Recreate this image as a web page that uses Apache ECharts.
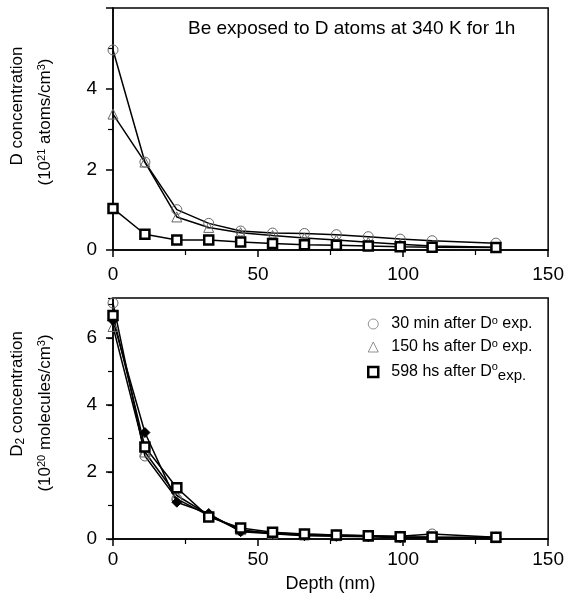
<!DOCTYPE html>
<html lang="en">
<head>
    <meta charset="UTF-8">
    <title>D and D2 depth profiles</title>
    <script src="https://cdn.jsdelivr.net/npm/echarts@6.0.0/dist/echarts.min.js"></script>
    <style>
        html, body { margin: 0; padding: 0; background: #fff; }
        #chart { width: 567px; height: 601px; }
    </style>
</head>
<body>
    <div id="chart"></div>
    <script>
        // depth of each measured point (nm)
        var depth = [0, 11, 22, 33, 44, 55, 66, 77, 88, 99, 110, 132];

        // top panel: D concentration (10^21 atoms/cm^3)
        var dAtom30min = [4.96, 2.18, 1.0, 0.66, 0.47, 0.42, 0.41, 0.38, 0.33, 0.27, 0.23, 0.17];
        var dAtom150h  = [3.37, 2.18, 0.82, 0.56, 0.43, 0.36, 0.3, 0.25, 0.19, 0.14, 0.1, 0.07];
        var dAtom598h  = [1.03, 0.39, 0.25, 0.25, 0.2, 0.16, 0.13, 0.12, 0.1, 0.08, 0.07, 0.06];

        // bottom panel: D2 concentration (10^20 molecules/cm^3)
        var d2Mol30min  = [7.05, 2.48, 1.2, 0.7, 0.25, 0.18, 0.14, 0.12, 0.1, 0.08, 0.15, 0.05];
        var d2Mol150h   = [6.35, 2.6, 1.3, 0.72, 0.28, 0.16, 0.12, 0.1, 0.08, 0.06, 0.05, 0.04];
        var d2Mol598h   = [6.68, 2.75, 1.53, 0.66, 0.33, 0.2, 0.15, 0.12, 0.1, 0.07, 0.06, 0.05];
        var d2MolFilled = [6.53, 3.18, 1.1, 0.76, 0.22, 0.16, 0.1, 0.08, 0.07, 0.04, 0.04, 0.03];

        var xTicks = [0, 50, 100, 150];
        var seriesNames = ['30 min after D° exp.', '150 hs after D° exp.', '598 hs after D° exp.'];
        var legendRich = [
            '30 min after D{sup|o} exp.',
            '150 hs after D{sup|o} exp.',
            '598 hs after D{sup|o}{sub|exp.}'
        ];

        var FONT = 'Liberation Sans, Arial, sans-serif';
        var chart = echarts.init(document.getElementById('chart'));

        function pairs(ys) {
            return depth.map(function (d, i) { return [d, ys[i]]; });
        }

        function xAxisFor(grid, showLabel) {
            return {
                type: 'value', gridIndex: grid, min: xTicks[0], max: xTicks[xTicks.length - 1], interval: 50,
                axisLine: { lineStyle: { color: '#000', width: 1.5 } },
                axisTick: { length: 7, lineStyle: { color: '#000', width: 1.5 } },
                minorTick: { show: true, splitNumber: 2, length: 5, lineStyle: { color: '#000', width: 1.2 } },
                splitLine: { show: false },
                axisLabel: { show: true, color: '#000', fontSize: 19, fontFamily: FONT, margin: showLabel ? 11 : 15 },
                name: showLabel ? 'Depth (nm)' : '',
                nameLocation: 'middle', nameGap: 36,
                nameTextStyle: { color: '#000', fontSize: 18, fontFamily: FONT }
            };
        }

        function markerSeries(name, data, xi, yi, symbol, style, size) {
            return {
                name: name, type: 'line', xAxisIndex: xi, yAxisIndex: yi,
                data: pairs(data), symbol: symbol, symbolSize: size,
                lineStyle: { color: '#000', width: 1.5 },
                itemStyle: style,
                animation: false
            };
        }

        var openCircle = { color: 'rgba(255,255,255,0)', borderColor: '#666', borderWidth: 1 };
        var openTri = { color: 'rgba(255,255,255,0)', borderColor: '#666', borderWidth: 1 };
        var boxSq = { color: '#fff', borderColor: '#000', borderWidth: 2.5 };
        var filled = { color: '#000', borderColor: '#000', borderWidth: 1 };

        var supRich = {
            sup: { fontSize: 11, fontFamily: FONT, color: '#000', verticalAlign: 'top', lineHeight: 18 },
            sub: { fontSize: 15, fontFamily: FONT, color: '#000', verticalAlign: 'bottom', lineHeight: 22, padding: [6, 0, 0, 0] }
        };

        var option = {
            animation: false,
            grid: [
                { left: 113, top: 8, right: 18, height: 242, show: true, borderColor: '#000', borderWidth: 1.5 },
                { left: 113, top: 298, right: 18, height: 241, show: true, borderColor: '#000', borderWidth: 1.5 }
            ],
            xAxis: [xAxisFor(0, false), xAxisFor(1, true)],
            yAxis: [
                {
                    type: 'value', gridIndex: 0, min: 0, max: 6, interval: 2,
                    axisLine: { show: true, lineStyle: { color: '#000', width: 1.5 } },
                    axisTick: { length: 7, lineStyle: { color: '#000', width: 1.5 } },
                    minorTick: { show: true, splitNumber: 2, length: 5, lineStyle: { color: '#000', width: 1.2 } },
                    splitLine: { show: false },
                    axisLabel: { color: '#000', fontSize: 19, fontFamily: FONT, margin: 16, showMaxLabel: false }
                },
                {
                    type: 'value', gridIndex: 1, min: 0, max: 7.2, interval: 2,
                    axisLine: { show: true, lineStyle: { color: '#000', width: 1.5 } },
                    axisTick: { length: 7, lineStyle: { color: '#000', width: 1.5 } },
                    splitLine: { show: false },
                    axisLabel: { color: '#000', fontSize: 19, fontFamily: FONT, margin: 16, showMaxLabel: false }
                },
                {
                    // minor ticks of the lower panel (every 1 unit)
                    type: 'value', gridIndex: 1, position: 'left', min: 0, max: 7.2, interval: 1,
                    axisLine: { show: false },
                    axisTick: { length: 5, lineStyle: { color: '#000', width: 1.2 } },
                    splitLine: { show: false },
                    axisLabel: { show: false }
                }
            ],
            legend: {
                orient: 'vertical', left: 362, top: 310, itemGap: 6,
                itemWidth: 10, itemHeight: 10,
                data: [
                    { name: seriesNames[0], icon: 'circle', itemStyle: { color: 'rgba(255,255,255,0)', borderColor: '#777', borderWidth: 0.8 } },
                    { name: seriesNames[1], icon: 'triangle', itemStyle: { color: 'rgba(255,255,255,0)', borderColor: '#777', borderWidth: 0.8 } },
                    { name: seriesNames[2], icon: 'rect', itemStyle: { color: '#fff', borderColor: '#000', borderWidth: 2.5 } }
                ],
                formatter: function (name) { return legendRich[seriesNames.indexOf(name)]; },
                textStyle: { color: '#000', fontSize: 16, fontFamily: FONT, padding: [0, 0, 0, 8], rich: supRich }
            },
            graphic: [
                {
                    type: 'text', left: 188, top: 19,
                    style: { text: 'Be exposed to D atoms at 340 K for 1h', fill: '#000', font: '19px ' + FONT }
                },
                {
                    type: 'text', x: 17, y: 106, rotation: Math.PI / 2,
                    style: { text: 'D concentration', fill: '#000', font: '17px ' + FONT, align: 'center', verticalAlign: 'middle' }
                },
                {
                    type: 'text', x: 45, y: 122, rotation: Math.PI / 2,
                    style: {
                        text: '(10{sup|21} atoms/cm{sup|3})', fill: '#000', font: '17px ' + FONT,
                        align: 'center', verticalAlign: 'middle', rich: supRich
                    }
                },
                {
                    type: 'text', x: 17, y: 394, rotation: Math.PI / 2,
                    style: {
                        text: 'D{sub|2} concentration', fill: '#000', font: '17px ' + FONT,
                        align: 'center', verticalAlign: 'middle',
                        rich: { sub: { fontSize: 12, fontFamily: FONT, verticalAlign: 'bottom', padding: [8, 0, 0, 0] } }
                    }
                },
                {
                    type: 'text', x: 45, y: 413, rotation: Math.PI / 2,
                    style: {
                        text: '(10{sup|20} molecules/cm{sup|3})', fill: '#000', font: '17px ' + FONT,
                        align: 'center', verticalAlign: 'middle', rich: supRich
                    }
                }
            ],
            series: [
                markerSeries(seriesNames[0], dAtom30min, 0, 0, 'circle', openCircle, 10),
                markerSeries(seriesNames[1], dAtom150h, 0, 0, 'triangle', openTri, 10),
                markerSeries(seriesNames[2], dAtom598h, 0, 0, 'rect', boxSq, 9),
                markerSeries(seriesNames[0], d2Mol30min, 1, 1, 'circle', openCircle, 10),
                markerSeries(seriesNames[1], d2Mol150h, 1, 1, 'triangle', openTri, 10),
                markerSeries('filled', d2MolFilled, 1, 1, 'diamond', filled, 10),
                markerSeries(seriesNames[2], d2Mol598h, 1, 1, 'rect', boxSq, 9)
            ]
        };

        chart.setOption(option);
    </script>
</body>
</html>
